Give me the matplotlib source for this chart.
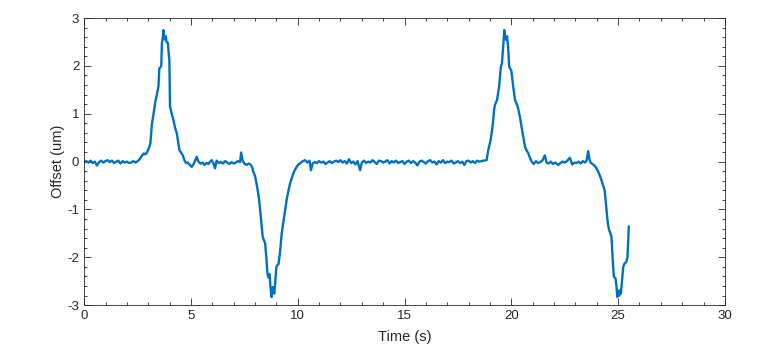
import numpy as np
import matplotlib.pyplot as plt
from matplotlib.ticker import MultipleLocator

# (time [s], offset [um])
trace = [
    (0.0, -0.01), (0.1, 0.01), (0.2, -0.02), (0.3, 0.02), (0.4, -0.03),
    (0.5, 0.00), (0.6, -0.08), (0.7, -0.01), (0.8, 0.02), (0.9, -0.02),
    (1.0, 0.01), (1.1, 0.03), (1.2, -0.01), (1.3, 0.02), (1.4, -0.03),
    (1.5, 0.00), (1.6, 0.02), (1.7, -0.04), (1.8, 0.01), (1.9, -0.02),
    (2.0, 0.00), (2.1, -0.03), (2.2, -0.02), (2.3, 0.01), (2.4, -0.02),
    (2.48, 0.00), (2.6, 0.05), (2.7, 0.12), (2.79, 0.17), (2.87, 0.15),
    (2.95, 0.20), (3.03, 0.28), (3.1, 0.38), (3.17, 0.78), (3.25, 1.0),
    (3.32, 1.22), (3.4, 1.4), (3.48, 1.57), (3.52, 1.95), (3.57, 1.97),
    (3.61, 2.0), (3.64, 2.47), (3.68, 2.58), (3.71, 2.75), (3.74, 2.6),
    (3.78, 2.55), (3.82, 2.62), (3.86, 2.5), (3.92, 2.48), (3.97, 2.2),
    (3.99, 2.12), (4.02, 1.15), (4.1, 1.0), (4.18, 0.87), (4.26, 0.7),
    (4.34, 0.59), (4.42, 0.35), (4.46, 0.24), (4.55, 0.18), (4.62, 0.13),
    (4.7, 0.02), (4.77, -0.03), (4.85, -0.02), (4.95, -0.07), (5.04, -0.11),
    (5.15, -0.03), (5.27, 0.10), (5.35, 0.00), (5.45, -0.04), (5.55, -0.02),
    (5.62, -0.07), (5.72, -0.03), (5.82, -0.05), (5.9, 0.00), (5.97, 0.03),
    (6.05, -0.03), (6.13, -0.14), (6.2, 0.02), (6.3, -0.03), (6.4, -0.01),
    (6.5, -0.04), (6.6, 0.01), (6.7, -0.02), (6.8, -0.05), (6.9, -0.01),
    (7.0, -0.04), (7.1, -0.02), (7.2, 0.01), (7.3, -0.01), (7.35, 0.19),
    (7.42, 0.02), (7.5, -0.04), (7.6, -0.07), (7.7, -0.04), (7.79, -0.06),
    (7.86, -0.11), (7.92, -0.21), (8.0, -0.3), (8.1, -0.53), (8.18, -0.75),
    (8.24, -1.01), (8.3, -1.3), (8.36, -1.57), (8.42, -1.65), (8.47, -1.7),
    (8.53, -2.0), (8.58, -2.34), (8.63, -2.42), (8.68, -2.35), (8.72, -2.6),
    (8.77, -2.83), (8.8, -2.7), (8.84, -2.62), (8.87, -2.68), (8.9, -2.76),
    (8.95, -2.5), (9.0, -2.2), (9.05, -2.16), (9.1, -2.14), (9.17, -1.9),
    (9.25, -1.5), (9.32, -1.29), (9.4, -1.05), (9.48, -0.8), (9.56, -0.62),
    (9.64, -0.46), (9.72, -0.35), (9.79, -0.25), (9.87, -0.17), (9.95, -0.11),
    (10.03, -0.06), (10.1, -0.04), (10.2, 0.00), (10.34, 0.03), (10.45, -0.02),
    (10.55, 0.02), (10.62, -0.18), (10.7, -0.04), (10.8, -0.01), (10.9, -0.03),
    (11.0, 0.01), (11.1, -0.02), (11.2, 0.00), (11.3, -0.05), (11.4, -0.02),
    (11.5, 0.01), (11.6, -0.03), (11.7, 0.00), (11.8, 0.02), (11.9, -0.01),
    (12.0, 0.03), (12.1, -0.02), (12.2, 0.01), (12.3, -0.04), (12.4, 0.05),
    (12.5, -0.03), (12.6, 0.00), (12.7, -0.06), (12.8, 0.01), (12.92, -0.18),
    (13.0, -0.02), (13.1, 0.02), (13.2, -0.03), (13.3, 0.00), (13.4, -0.02),
    (13.5, 0.03), (13.6, -0.01), (13.7, -0.05), (13.8, 0.02), (13.9, 0.01),
    (14.0, -0.02), (14.1, 0.00), (14.2, 0.03), (14.3, -0.04), (14.4, 0.01),
    (14.5, -0.02), (14.6, 0.02), (14.7, -0.03), (14.8, -0.01), (14.9, 0.01),
    (15.0, -0.05), (15.1, 0.00), (15.2, 0.02), (15.3, -0.03), (15.4, 0.01),
    (15.5, -0.02), (15.6, -0.08), (15.7, 0.00), (15.8, 0.02), (15.9, -0.01),
    (16.0, -0.04), (16.1, 0.01), (16.2, 0.03), (16.3, -0.02), (16.4, 0.00),
    (16.5, -0.06), (16.6, 0.01), (16.7, -0.02), (16.8, 0.03), (16.9, -0.03),
    (17.0, 0.00), (17.1, -0.01), (17.2, 0.02), (17.3, -0.04), (17.4, -0.02),
    (17.5, 0.01), (17.6, -0.03), (17.7, 0.00), (17.8, -0.07), (17.9, 0.01),
    (18.0, 0.02), (18.1, -0.02), (18.2, 0.01), (18.3, -0.03), (18.4, 0.02),
    (18.5, 0.00), (18.6, 0.01), (18.7, 0.02), (18.84, 0.03), (18.92, 0.24),
    (19.03, 0.45), (19.12, 0.73), (19.2, 1.1), (19.23, 1.18), (19.33, 1.29),
    (19.43, 1.57), (19.51, 1.98), (19.56, 2.05), (19.62, 2.4), (19.67, 2.75),
    (19.7, 2.6), (19.74, 2.55), (19.8, 2.62), (19.85, 2.4), (19.9, 1.98),
    (20.0, 1.9), (20.08, 1.6), (20.17, 1.29), (20.3, 1.15), (20.4, 0.94),
    (20.48, 0.72), (20.56, 0.52), (20.64, 0.31), (20.71, 0.24), (20.8, 0.17),
    (20.87, 0.08), (20.95, 0.00), (21.05, -0.05), (21.15, 0.01), (21.25, -0.03),
    (21.35, -0.01), (21.45, 0.02), (21.57, 0.13), (21.65, -0.02), (21.75, -0.04),
    (21.85, 0.00), (21.95, -0.05), (22.05, -0.02), (22.2, -0.07), (22.3, -0.03),
    (22.4, 0.00), (22.5, -0.02), (22.6, 0.01), (22.74, 0.08), (22.85, -0.06),
    (22.95, -0.02), (23.05, -0.03), (23.15, 0.00), (23.25, -0.04), (23.35, 0.01),
    (23.45, -0.02), (23.52, 0.02), (23.6, 0.22), (23.66, 0.04), (23.73, -0.03),
    (23.8, -0.05), (23.88, -0.08), (23.96, -0.12), (24.07, -0.21), (24.15, -0.3),
    (24.22, -0.39), (24.3, -0.5), (24.37, -0.6), (24.46, -1.01), (24.52, -1.3),
    (24.58, -1.43), (24.64, -1.5), (24.69, -1.57), (24.74, -2.0), (24.8, -2.41),
    (24.88, -2.44), (24.92, -2.6), (24.96, -2.83), (25.0, -2.7), (25.05, -2.8),
    (25.08, -2.69), (25.13, -2.76), (25.18, -2.5), (25.24, -2.2), (25.3, -2.13),
    (25.38, -2.1), (25.44, -1.99), (25.5, -1.36),
]
time_s = [p[0] for p in trace]
offset_um = [p[1] for p in trace]

fam = ['Liberation Sans', 'DejaVu Sans']
plt.rcParams['axes.unicode_minus'] = False  # plain hyphen like the reference

fig = plt.figure(figsize=(7.72, 3.54), dpi=100)
ax = fig.add_axes([0.109, 0.138, 0.830, 0.811])

ax.plot(time_s, offset_um, color='#0072BD', lw=1.7)

ax.set_xlim(0, 30)
ax.set_ylim(-3, 3)
ax.xaxis.set_major_locator(MultipleLocator(5))
ax.xaxis.set_minor_locator(MultipleLocator(1))
ax.yaxis.set_major_locator(MultipleLocator(1))
ax.yaxis.set_minor_locator(MultipleLocator(0.2))
ax.tick_params(which='both', direction='in', top=True, right=True,
               colors='#262626', labelsize=9.5, width=0.6)
ax.tick_params(which='major', length=5)
ax.tick_params(which='minor', length=2.5)
for s in ax.spines.values():
    s.set_color('#262626')
    s.set_linewidth(0.6)

for lab in ax.get_xticklabels() + ax.get_yticklabels():
    lab.set_family(fam)
ax.set_xlabel('Time (s)', fontsize=10.5, color='#262626', family=fam,
              labelpad=6)
ax.set_ylabel('Offset (um)', fontsize=10.5, color='#262626', family=fam,
              labelpad=2)

fig.savefig('out.png', dpi=100)
